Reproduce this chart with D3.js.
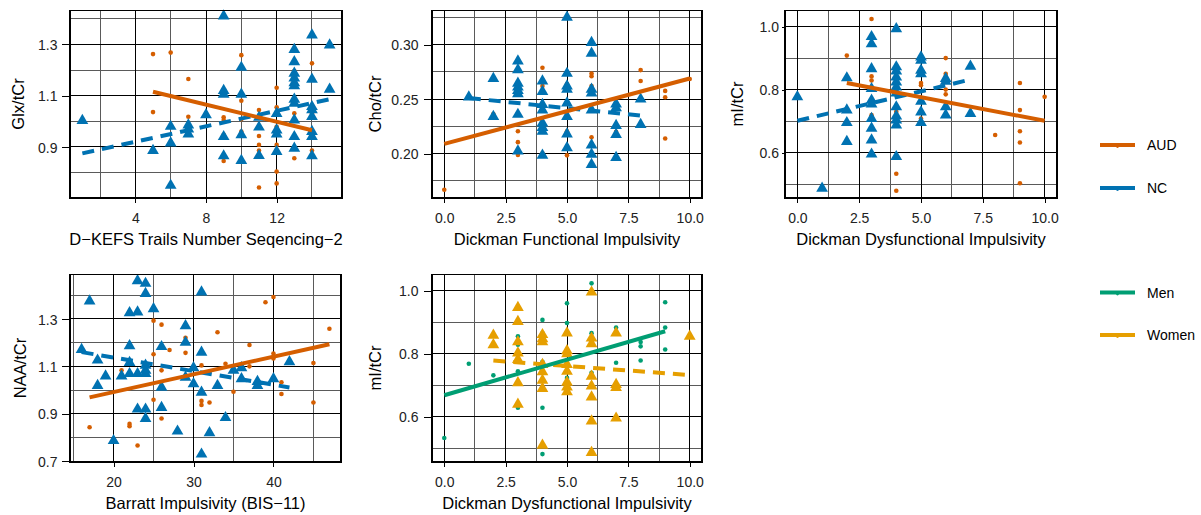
<!DOCTYPE html>
<html>
<head>
<meta charset="utf-8">
<script src="https://cdn.jsdelivr.net/npm/d3@7"></script>
<style>
  body { margin: 0; background: #fff; }
  svg { font-family: "Liberation Sans", Arial, sans-serif; }
</style>
</head>
<body>
<div id="chart"></div>
<script>
// ---------------- DATA ----------------
// Glx/tCr vs D-KEFS Trails
const glxAUD = [[5,1.262],[5,1.036],[6,1.268],[7,1.165],[7,1.018],[9,1.016],[9,1.005],[9,0.947],[9,0.845],
  [10,1.258],[10,1.109],[10,1.08],[10,1.008],[10,0.96],[11,1.044],[11,0.943],[11,0.908],[11,0.886],[11,0.742],
  [12,1.131],[12,1.055],[12,0.979],[12,0.908],[12,0.804],[12,0.758],[13,1.196],[13,1.031],[13,0.856],
  [14,1.226],[14,1.03],[14,0.886]];
const glxNC = [[1,1.003],[5,0.886],[6,0.98],[6,0.915],[6,0.75],[7,0.985],[7,0.97],[7,0.95],[8,1.025],
  [9,1.41],[9,1.12],[9,1.105],[9,0.94],[9,0.865],[10,1.21],[10,1.105],[10,0.947],[10,0.847],
  [11,1.015],[11,0.977],[11,0.866],[12,1.03],[12,0.966],[12,0.95],[12,0.882],
  [13,1.28],[13,1.232],[13,1.187],[13,1.168],[13,1.15],[13,1.138],[13,1.086],[13,1.07],[13,1.005],[13,0.94],[13,0.895],
  [14,1.336],[14,1.164],[14,1.057],[14,1.045],[14,1.018],[14,0.96],[14,0.94],[14,0.865],[15,1.297],[15,1.125]];
const glxFitAUD = [[5,1.115],[14,0.965]];
const glxFitNC = [[1,0.875],[15,1.086]];

// Cho/tCr vs Dickman Functional
const choAUD = [[0,0.167],[2,0.2364],[3,0.2206],[3,0.2106],[3,0.1988],[4,0.2788],[4,0.262],[4,0.2003],
  [5,0.275],[5,0.264],[5,0.2206],[5,0.1985],[6,0.2736],[6,0.271],[6,0.262],[6,0.215],[6,0.209],[7,0.22],
  [8,0.2767],[8,0.2667],[9,0.2576],[9,0.2518],[9,0.214],[10,0.2685]];
const choNC = [[1,0.252],[2,0.234],[2,0.269],[3,0.285],[3,0.277],[3,0.2645],[3,0.261],[3,0.258],[3,0.255],[3,0.236],[3,0.2025],
  [4,0.2667],[4,0.257],[4,0.245],[4,0.24],[4,0.228],[4,0.224],[4,0.2206],[4,0.1985],
  [5,0.325],[5,0.2736],[5,0.262],[5,0.259],[5,0.2464],[5,0.234],[5,0.218],[5,0.2055],
  [6,0.302],[6,0.292],[6,0.259],[6,0.2555],[6,0.24],[6,0.208],[6,0.1994],[6,0.19],
  [7,0.2455],[7,0.242],[7,0.2258],[7,0.2176],[7,0.1964],[8,0.25],[8,0.2267]];
const choFitAUD = [[0,0.209],[10,0.269]];
const choFitNC = [[1,0.251],[8,0.235]];

// mI/tCr vs Dickman Dysfunctional (by group)
const miAUD = [[2,0.908],[3,1.024],[3,0.842],[3,0.829],[3,0.719],[4,0.73],[4,0.533],[4,0.479],
  [5,0.821],[5,0.814],[5,0.708],[6,0.9],[6,0.85],[6,0.842],[6,0.8],[6,0.785],
  [8,0.656],[9,0.821],[9,0.735],[9,0.668],[9,0.632],[9,0.503],[10,0.777]];
const miNC = [[0,0.777],[1,0.487],[2,0.837],[2,0.735],[2,0.695],[2,0.635],
  [3,0.968],[3,0.945],[3,0.866],[3,0.803],[3,0.766],[3,0.754],[3,0.708],[3,0.677],[3,0.64],[3,0.595],
  [4,0.993],[4,0.872],[4,0.859],[4,0.84],[4,0.824],[4,0.808],[4,0.789],[4,0.745],[4,0.716],[4,0.703],[4,0.687],[4,0.587],
  [5,0.903],[5,0.893],[5,0.861],[5,0.85],[5,0.763],[5,0.729],[5,0.695],
  [6,0.835],[6,0.826],[6,0.745],[6,0.719],[7,0.874],[7,0.724]];
const miFitAUD = [[2,0.821],[10,0.701]];
const miFitNC = [[0,0.701],[7,0.832]];

// NAA/tCr vs Barratt
const naaAUD = [[17,0.843],[21,1.083],[22,0.857],[22,0.847],[23,0.766],[25,1.293],[25,1.151],[25,0.959],
  [26,1.276],[26,1.083],[26,0.88],[27,1.169],[29,1.221],[29,1.157],[31,1.104],[31,0.954],[31,0.937],
  [32,0.947],[33,1.244],[34,1.111],[35,0.993],[37,1.19],[37,1.1],[39,1.371],[40,1.393],[40,1.154],[40,1.133],
  [41,1.033],[41,0.983],[45,1.114],[45,0.947],[47,1.259]];
const naaNC = [[16,1.171],[17,1.376],[18,1.126],[18,1.019],[19,1.059],[20,0.786],[21,1.059],
  [22,1.326],[22,1.187],[22,1.116],[22,1.069],[23,1.461],[23,1.329],[23,1.069],[23,0.919],
  [24,1.45],[24,1.407],[24,1.104],[24,1.083],[24,1.069],[24,0.919],[24,0.879],[25,1.343],
  [26,1.183],[26,1.011],[26,0.926],[28,0.826],[29,1.271],[29,1.201],[29,1.054],[30,1.094],[30,1.026],
  [31,1.414],[31,1.159],[31,0.99],[31,0.729],[32,0.819],[33,1.019],[34,0.883],[35,1.083],
  [36,1.094],[36,1.047],[38,1.036],[38,1.019],[40,1.047],[42,1.119]];
const naaFitAUD = [[17,0.969],[47,1.193]];
const naaFitNC = [[16,1.16],[42,1.011]];

// mI/tCr vs Dickman Dysfunctional (by sex)
const miMen = [[0,0.532],[1,0.768],[2,0.731],[3,0.855],[3,0.828],[3,0.744],[3,0.628],
  [4,0.907],[4,0.865],[4,0.774],[4,0.628],[4,0.481],[5,0.96],[5,0.897],[5,0.723],
  [6,1.023],[6,0.865],[6,0.837],[6,0.739],[6,0.665],[7,0.883],[7,0.771],
  [8,0.837],[8,0.823],[8,0.778],[9,0.963],[9,0.883],[9,0.813]];
const miWomen = [[2,0.858],[2,0.828],[3,0.946],[3,0.902],[3,0.837],[3,0.802],[3,0.781],[3,0.707],[3,0.639],
  [4,0.86],[4,0.847],[4,0.837],[4,0.765],[4,0.742],[4,0.715],[4,0.689],[4,0.509],
  [5,0.865],[5,0.809],[5,0.799],[5,0.765],[5,0.744],[5,0.709],[5,0.694],[5,0.679],
  [6,0.995],[6,0.849],[6,0.831],[6,0.728],[6,0.697],[6,0.662],[6,0.586],[6,0.486],
  [7,0.865],[7,0.702],[7,0.692],[7,0.595],[10,0.855]];
const miFitMen = [[0,0.668],[9,0.871]];
const miFitWomen = [[2,0.778],[10,0.732]];

// ---------------- TICKS ----------------
const dickTicks = [0, 2.5, 5, 7.5, 10];
const dickLabels = ["0.0", "2.5", "5.0", "7.5", "10.0"];
const dickMinor = [1.25, 3.75, 6.25, 8.75];
const miTicks = [0.6, 0.8, 1.0];
const miLabels = ["0.6", "0.8", "1.0"];
const miMinor = [0.5, 0.7, 0.9];

const groupLegend = ["AUD", "NC"];
const sexLegend = ["Men", "Women"];
const colors = {AUD: "#D55E00", NC: "#0072B2", Men: "#009E73", Women: "#E69F00"};

// ---------------- PANELS ----------------
const panels = [
  {box: [70, 10, 342, 198], xd: [0.3, 15.7], yd: [0.701, 1.434],
   xt: [4, 8, 12], xl: ["4", "8", "12"], xm: [2, 6, 10, 14],
   yt: [0.9, 1.1, 1.3], yl: ["0.9", "1.1", "1.3"], ym: [0.8, 1.0, 1.2, 1.4],
   xTitle: "D\u2212KEFS Trails Number Seqencing\u22122", yTitle: "Glx/tCr", yGap: 12.5, yTitleX: 18,
   series: [
     {pts: glxAUD, fit: glxFitAUD, key: "AUD", shape: "dot", dash: false},
     {pts: glxNC, fit: glxFitNC, key: "NC", shape: "tri", dash: true}]},
  {box: [432, 10, 702, 198], xd: [-0.5, 10.5], yd: [0.1594, 0.3318],
   xt: dickTicks, xl: dickLabels, xm: dickMinor,
   yt: [0.20, 0.25, 0.30], yl: ["0.20", "0.25", "0.30"], ym: [0.175, 0.225, 0.275, 0.325],
   xTitle: "Dickman Functional Impulsivity", yTitle: "Cho/tCr", yGap: 13.5, yTitleX: 375,
   series: [
     {pts: choAUD, fit: choFitAUD, key: "AUD", shape: "dot", dash: false},
     {pts: choNC, fit: choFitNC, key: "NC", shape: "tri", dash: true}]},
  {box: [785, 10, 1057, 198], xd: [-0.5, 10.5], yd: [0.456, 1.0527],
   xt: dickTicks, xl: dickLabels, xm: dickMinor,
   yt: miTicks, yl: miLabels, ym: miMinor,
   xTitle: "Dickman Dysfunctional Impulsivity", yTitle: "mI/tCr", yGap: 6, yTitleX: 737,
   series: [
     {pts: miAUD, fit: miFitAUD, key: "AUD", shape: "dot", dash: false},
     {pts: miNC, fit: miFitNC, key: "NC", shape: "tri", dash: true}]},
  {box: [70, 274, 341, 462], xd: [14.55, 48.45], yd: [0.696, 1.49],
   xt: [20, 30, 40], xl: ["20", "30", "40"], xm: [15, 25, 35, 45],
   yt: [0.7, 0.9, 1.1, 1.3], yl: ["0.7", "0.9", "1.1", "1.3"], ym: [0.8, 1.0, 1.2, 1.4],
   xTitle: "Barratt Impulsivity (BIS\u221211)", yTitle: "NAA/tCr", yGap: 12.5, yTitleX: 20,
   series: [
     {pts: naaAUD, fit: naaFitAUD, key: "AUD", shape: "dot", dash: false},
     {pts: naaNC, fit: naaFitNC, key: "NC", shape: "tri", dash: true}]},
  {box: [432, 274, 702, 462], xd: [-0.5, 10.5], yd: [0.456, 1.0527],
   xt: dickTicks, xl: dickLabels, xm: dickMinor,
   yt: miTicks, yl: miLabels, ym: miMinor,
   xTitle: "Dickman Dysfunctional Impulsivity", yTitle: "mI/tCr", yGap: 13.5, yTitleX: 375,
   series: [
     {pts: miMen, fit: miFitMen, key: "Men", shape: "dot", dash: false},
     {pts: miWomen, fit: miFitWomen, key: "Women", shape: "tri", dash: true}]}
];

const svg = d3.select("#chart").append("svg")
  .attr("width", 1201).attr("height", 515);

const tri = d3.symbol().type(d3.symbolTriangle).size(60);
const snap = v => Math.round(v - 0.5) + 0.5;

panels.forEach(p => {
  const [x0, y0, x1, y1] = p.box;
  const x = d3.scaleLinear().domain(p.xd).range([x0, x1]);
  const y = d3.scaleLinear().domain(p.yd).range([y1, y0]);
  const g = svg.append("g");

  // grid: minor grey, major black
  const grid = g.append("g").attr("shape-rendering", "crispEdges");
  p.xm.forEach(v => grid.append("line").attr("x1", snap(x(v))).attr("x2", snap(x(v))).attr("y1", y0).attr("y2", y1)
    .attr("stroke", "#5a5a5a").attr("stroke-width", 1));
  p.ym.forEach(v => grid.append("line").attr("y1", snap(y(v))).attr("y2", snap(y(v))).attr("x1", x0).attr("x2", x1)
    .attr("stroke", "#5a5a5a").attr("stroke-width", 1));
  p.xt.forEach(v => grid.append("line").attr("x1", snap(x(v))).attr("x2", snap(x(v))).attr("y1", y0).attr("y2", y1)
    .attr("stroke", "#000").attr("stroke-width", 1));
  p.yt.forEach(v => grid.append("line").attr("y1", snap(y(v))).attr("y2", snap(y(v))).attr("x1", x0).attr("x2", x1)
    .attr("stroke", "#000").attr("stroke-width", 1));

  // points
  p.series.forEach(s => {
    if (s.shape === "dot") {
      g.append("g").selectAll("circle").data(s.pts).enter().append("circle")
        .attr("cx", d => x(d[0])).attr("cy", d => y(d[1])).attr("r", 2.3)
        .attr("fill", colors[s.key]);
    } else {
      g.append("g").selectAll("path").data(s.pts).enter().append("path")
        .attr("d", tri)
        .attr("transform", d => `translate(${x(d[0])},${y(d[1])})`)
        .attr("fill", colors[s.key]);
    }
  });

  // fit lines (dashed first so solid sits on top)
  const line = d3.line().x(d => x(d[0])).y(d => y(d[1]));
  p.series.slice().reverse().forEach(s => {
    g.append("path").attr("d", line(s.fit))
      .attr("fill", "none")
      .attr("stroke", colors[s.key])
      .attr("stroke-width", 4)
      .attr("stroke-dasharray", s.dash ? "12,8" : null);
  });

  // border
  g.append("rect").attr("x", x0 + 0.5).attr("y", y0 + 0.5).attr("width", x1 - x0 - 1).attr("height", y1 - y0 - 1)
    .attr("fill", "none").attr("stroke", "#000").attr("stroke-width", 1);
  g.append("path").attr("d", `M${x0},${y0}V${y1}H${x1}V${y0}`)
    .attr("fill", "none").attr("stroke", "#000").attr("stroke-width", 2);

  // axes
  const ySize = Math.min(8, p.yGap - 3);
  const xAxis = g.append("g").attr("transform", `translate(0,${y1})`)
    .call(d3.axisBottom(x).tickValues(p.xt).tickSize(5).tickPadding(10).tickFormat((d, i) => p.xl[i]));
  const yAxis = g.append("g").attr("transform", `translate(${x0},0)`)
    .call(d3.axisLeft(y).tickValues(p.yt).tickSize(ySize).tickPadding(p.yGap - ySize).tickFormat((d, i) => p.yl[i]));
  [xAxis, yAxis].forEach(a => {
    a.select(".domain").remove();
    a.selectAll(".tick line").attr("stroke", "#000").attr("shape-rendering", "crispEdges");
    a.selectAll("text").attr("fill", "#222").style("font-size", "14px")
      .style("font-family", "'Liberation Sans', Arial, sans-serif");
  });
  yAxis.selectAll("text").attr("dy", "0.36em");

  // titles
  g.append("text").attr("x", (x0 + x1) / 2).attr("y", y1 + 47)
    .attr("text-anchor", "middle").style("font-size", "16.5px").attr("fill", "#000")
    .text(p.xTitle);
  g.append("text").attr("transform", `translate(${p.yTitleX},${(y0 + y1) / 2}) rotate(-90)`)
    .attr("text-anchor", "middle").attr("dominant-baseline", "central")
    .style("font-size", "16.5px").attr("fill", "#000")
    .text(p.yTitle);
});

// ---------------- LEGEND ----------------
const legendRows = [
  {keys: groupLegend, ys: [145, 188]},
  {keys: sexLegend, ys: [292.5, 335]}
];
legendRows.forEach(l => {
  l.keys.forEach((k, i) => {
    const ly = l.ys[i];
    svg.append("line").attr("x1", 1100).attr("x2", 1135).attr("y1", ly).attr("y2", ly)
      .attr("stroke", colors[k]).attr("stroke-width", 4);
    svg.append("circle").attr("cx", 1117.5).attr("cy", ly + 1.5).attr("r", 1.4).attr("fill", colors[k]);
    svg.append("text").attr("x", 1147).attr("y", ly).attr("dominant-baseline", "central")
      .style("font-size", "14px").attr("fill", "#000").text(k);
  });
});
</script>
</body>
</html>
